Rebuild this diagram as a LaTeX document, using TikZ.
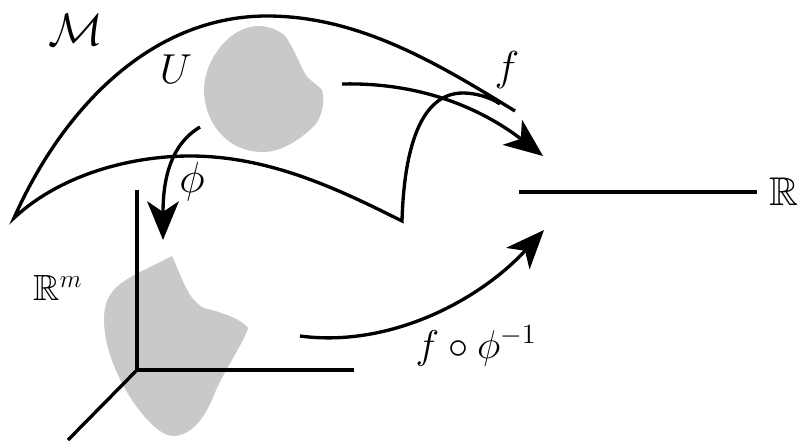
\documentclass[tikz,border=0pt]{standalone}
\usepackage{amssymb}
\usetikzlibrary{arrows.meta}
\definecolor{patchgray}{HTML}{C9C9C9}

\begin{document}
\begin{tikzpicture}[
x=0.02cm, y=-0.02cm,
% Define styles
edge/.style = {line width=1.9pt, line join=miter},
axis/.style = {line width=1.9pt},
patch/.style = {fill=patchgray, draw=none},
arrow/.style = {line width=1.9pt, -{Stealth[length=22pt,width=18pt,inset=6pt]}},
label/.style = {inner sep=0pt, font=\huge}
]
\useasboundingbox (0,0) rectangle (800,442);

% Patches
\fill [patch] (258,26) .. controls (270,26) and (280,31) .. (285,36) .. controls (292,45) and (298,60) .. (304,72) .. controls (308,80) and (318,85) .. (322,90) .. controls (325,100) and (323,115) .. (315,125) .. controls (305,135) and (285,152) .. (263,152) .. controls (225,152) and (204,120) .. (204,90) .. controls (204,60) and (230,26) .. cycle;
\fill [patch] (172,256) .. controls (183,280) and (188,300) .. (204,308) .. controls (220,312) and (240,318) .. (248,328) .. controls (245,340) and (225,370) .. (216,390) .. controls (205,420) and (190,436) .. (173,436) .. controls (150,436) and (104,370) .. (104,320) .. controls (104,285) and (125,280) .. cycle;

% Corners and ends
\coordinate (cornerL) at (14,218);
\coordinate (cornerR) at (402,221);
\coordinate (topEnd) at (515,111);
\coordinate (foldEnd) at (500,104);
\coordinate (origin) at (137,370);
\coordinate (axisUp) at (137,190);
\coordinate (axisRight) at (354,370);
\coordinate (axisDown) at (68,440);
\coordinate (lineL) at (519,192);
\coordinate (lineR) at (757,192);
\coordinate (phiStart) at (200,127);
\coordinate (phiEnd) at (163,240);
\coordinate (fStart) at (342,84);
\coordinate (fEnd) at (543,156);
\coordinate (compStart) at (300,336);
\coordinate (compEnd) at (544,230);

% Labels
\node (manifold) [label, scale=1.25] at (76,30) {$\mathcal{M}$};
\node (patchU) [label, scale=1.15] at (176,69) {$U$};
\node (labelF) [label, scale=1.15] at (507,70) {$f$};
\node (labelPhi) [label, scale=1.2] at (192,182) {$\phi$};
\node (realLine) [label, scale=1.1] at (784,192) {$\mathbb{R}$};
\node (realM) [label] at (58,288) {$\mathbb{R}^m$};
\node (labelComp) [label, scale=1.1] at (476,346) {$f\circ\phi^{-1}$};

% Manifold
\draw [edge] (topEnd) .. controls (440,65) and (360,16) .. (267,16) .. controls (150,16) and (62,110) .. (cornerL) .. controls (60,175) and (130,156) .. (190,156) .. controls (270,156) and (340,190) .. (cornerR) .. controls (404,150) and (420,93) .. (463,93) .. controls (475,93) and (490,97) .. (foldEnd);

% Axes
\draw [axis] (axisUp) -- (origin) -- (axisRight);
\draw [axis] (origin) -- (axisDown);
\draw [axis] (lineL) -- (lineR);

% Arrows
\draw [arrow] (phiStart) .. controls (170,145) and (163,180) .. (phiEnd);
\draw [arrow] (fStart) .. controls (430,82) and (490,115) .. (fEnd);
\draw [arrow] (compStart) .. controls (390,348) and (480,300) .. (compEnd);
\end{tikzpicture}
\end{document}
